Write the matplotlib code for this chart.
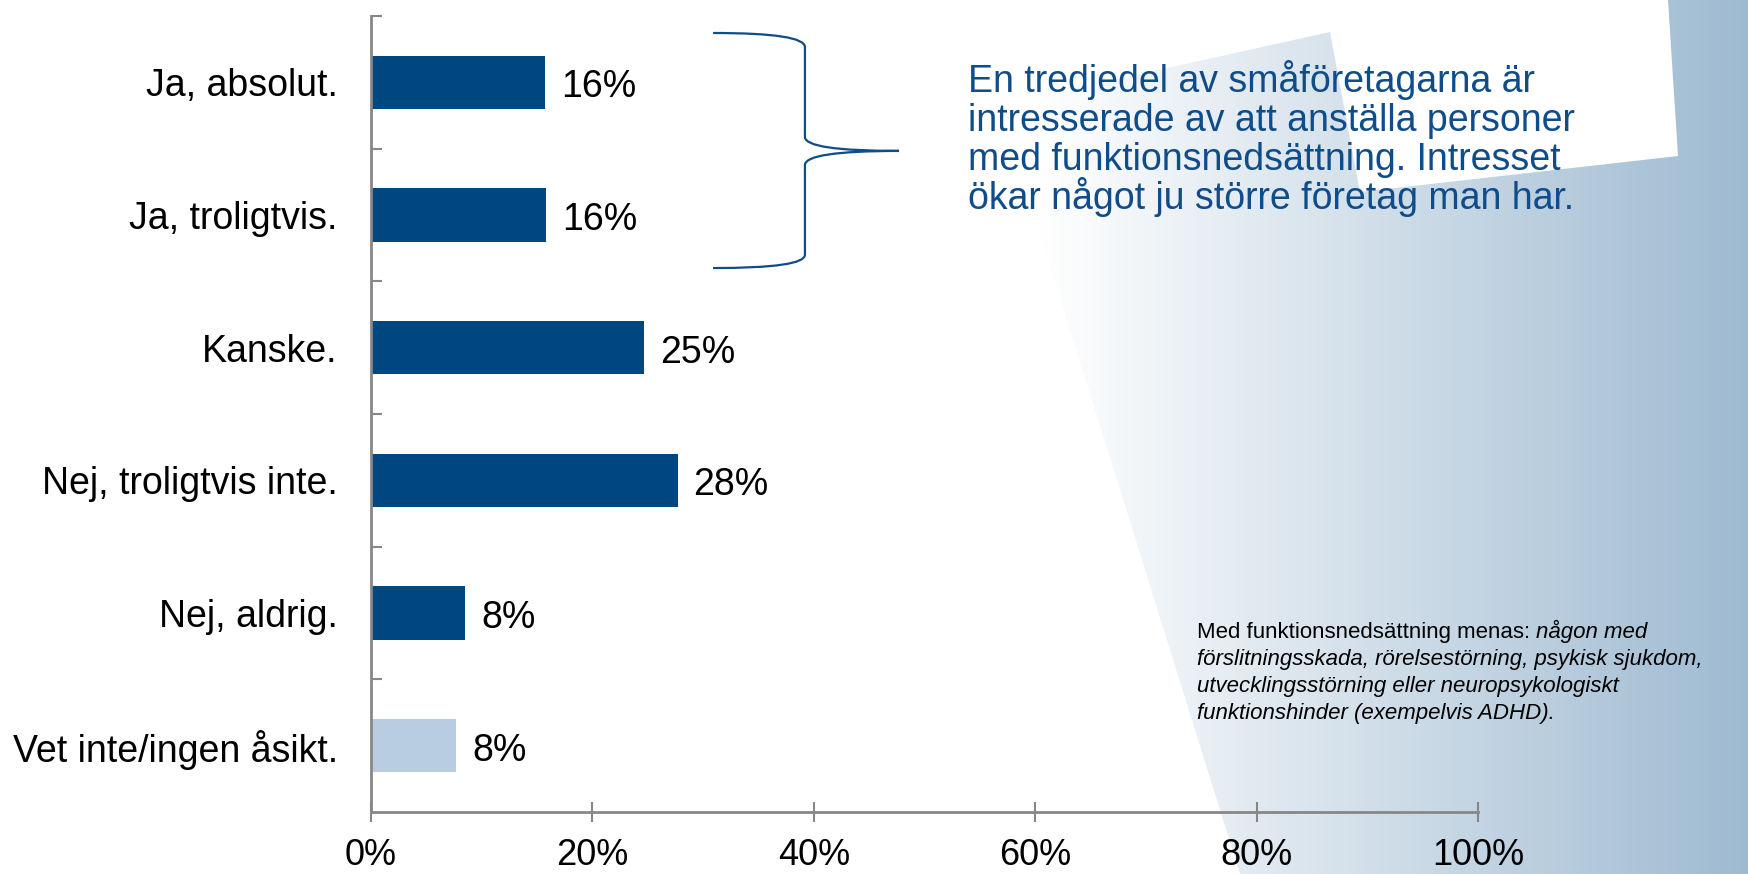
import numpy as np
import matplotlib
matplotlib.use("Agg")
from matplotlib import pyplot as plt
from matplotlib.patches import Polygon, PathPatch
from matplotlib.path import Path

plt.rcParams['font.family'] = ['Liberation Sans', 'DejaVu Sans']

# data
categories = ["Ja, absolut.", "Ja, troligtvis.", "Kanske.",
              "Nej, troligtvis inte.", "Nej, aldrig.", "Vet inte/ingen åsikt."]
values = [15.7, 15.8, 24.7, 27.7, 8.5, 7.7]
labels = ["16%", "16%", "25%", "28%", "8%", "8%"]
xticks = [0, 20, 40, 60, 80, 100]
xticklabels = ["0%", "20%", "40%", "60%", "80%", "100%"]

dark = "#00467F"
light = "#B8CCE2"
textblue = "#0F4C8A"
grey = "#878787"
colors = [dark, dark, dark, dark, dark, light]

W, H = 1749, 874
fig = plt.figure(figsize=(W / 100, H / 100), dpi=100)

# bakgrund: gradient till höger med ett vitt "papper" uppe till höger
bg = fig.add_axes([0, 0, 1, 1], zorder=0)
bg.set_xlim(0, W)
bg.set_ylim(H, 0)
bg.axis("off")
cols = np.arange(W)
t = np.clip((cols - 1040) / (W - 1040), 0, 1)
c0 = np.array([1.0, 1.0, 1.0])
c1 = np.array([0x9E, 0xBA, 0xD1]) / 255
grad = (1 - t)[:, None] * c0 + t[:, None] * c1
im = bg.imshow(grad[None, :, :], extent=(0, W, H, 0), aspect="auto")
clip = Polygon([(1000, 105), (1330, 32), (1360, 192), (1678, 156), (1668, 0),
                (W, 0), (W, H), (1240, H)], closed=True, transform=bg.transData)
im.set_clip_path(clip)

# diagram
ax = fig.add_axes([371 / W, 62 / H, 1107 / W, 796 / H], zorder=1)
ax.set_facecolor("none")
pos = np.arange(len(categories))
ax.barh(pos, values, height=0.4, color=colors)
ax.set_xlim(0, 100)
ax.set_ylim(5.5, -0.5)

for p, v, lab in zip(pos, values, labels):
    ax.annotate(lab, (v, p), xytext=(11.5, -3.5), textcoords="offset points",
                va="center", ha="left", fontsize=27, color="black")

ax.set_yticks(pos)
ax.set_yticklabels(categories, fontsize=27)
ax.set_yticks(np.arange(-0.5, 5.0, 1.0), minor=True)
ax.tick_params(axis="y", which="major", length=0, pad=24)
ax.tick_params(axis="y", which="minor", length=8, direction="in", color=grey, width=1.5)

ax.set_xticks(xticks)
ax.set_xticklabels(xticklabels, fontsize=26)
ax.tick_params(axis="x", length=15, direction="inout", color=grey, width=1.5, pad=11)

for s in ["top", "right"]:
    ax.spines[s].set_visible(False)
for s in ["left", "bottom"]:
    ax.spines[s].set_color(grey)
    ax.spines[s].set_linewidth(2)

# klammer runt de två första staplarna
bx0, bx1, bx2 = 30.9, 39.2, 47.7
verts = [(bx0, -0.372), (bx1, -0.372), (bx1, -0.266), (bx1, 0.412),
         (bx1, 0.517), (bx2, 0.517), (bx1, 0.517), (bx1, 0.623),
         (bx1, 1.30), (bx1, 1.40), (bx0, 1.40)]
codes = [Path.MOVETO, Path.CURVE3, Path.CURVE3, Path.LINETO,
         Path.CURVE3, Path.CURVE3, Path.CURVE3, Path.CURVE3,
         Path.LINETO, Path.CURVE3, Path.CURVE3]
brace = PathPatch(Path(verts, codes), fill=False, edgecolor=textblue, lw=1.6,
                  transform=ax.transData, clip_on=False)
ax.add_patch(brace)

# kommentar
callout = ["En tredjedel av småföretagarna är",
           "intresserade av att anställa personer",
           "med funktionsnedsättning. Intresset",
           "ökar något ju större företag man har."]
for i, line in enumerate(callout):
    fig.text(968 / W, 1 - (92 + 39 * i) / H, line, fontsize=27,
             color=textblue, va="baseline", ha="left")

# fotnot
fx = 1197 / W
t1 = fig.text(fx, 1 - 638 / H, "Med funktionsnedsättning menas: ",
              fontsize=16, va="baseline", ha="left")
r = fig.canvas.get_renderer()
w1 = t1.get_window_extent(renderer=r).width
fig.text(fx + w1 / W, 1 - 638 / H, "någon med", fontsize=16, style="italic",
         va="baseline", ha="left")
rest = ["förslitningsskada, rörelsestörning, psykisk sjukdom,",
        "utvecklingsstörning eller neuropsykologiskt",
        "funktionshinder (exempelvis ADHD)."]
for i, line in enumerate(rest):
    fig.text(fx, 1 - (665 + 27 * i) / H, line, fontsize=16, style="italic",
             va="baseline", ha="left")

fig.savefig("out.png", dpi=100)
